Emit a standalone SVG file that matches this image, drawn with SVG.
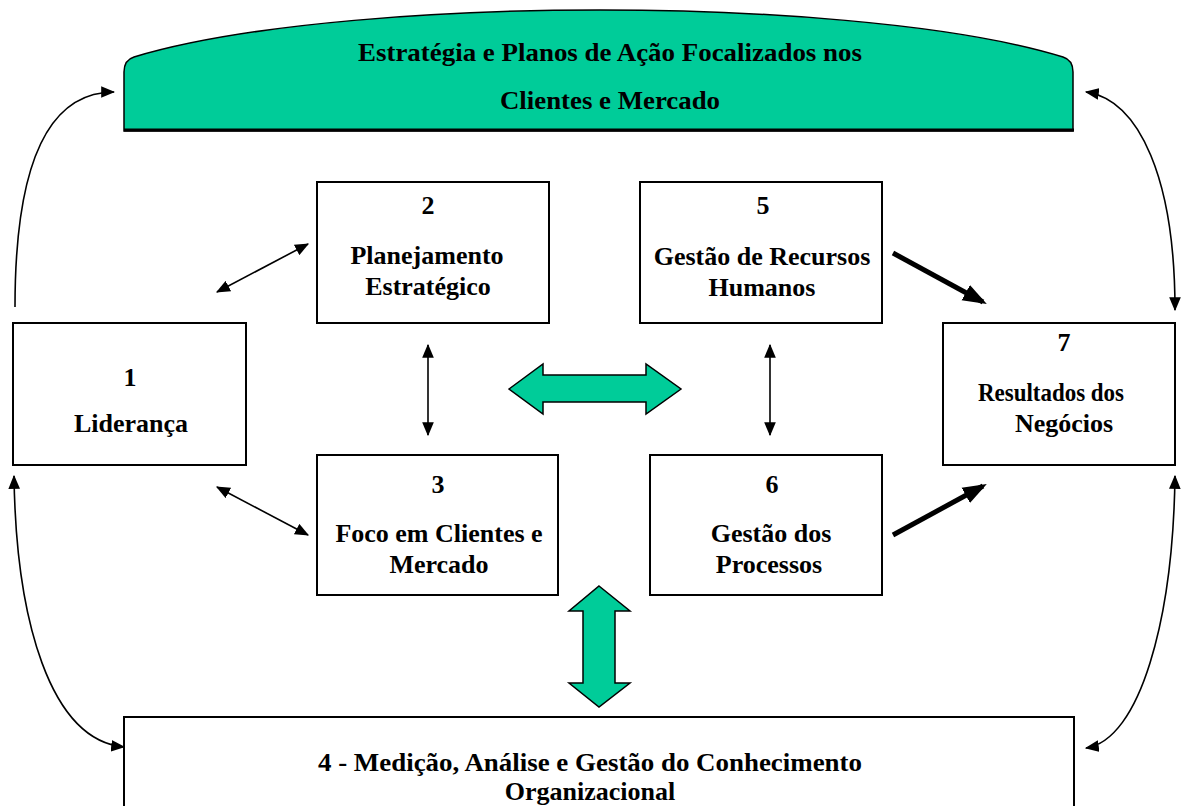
<svg xmlns="http://www.w3.org/2000/svg" width="1181" height="806" viewBox="0 0 1181 806">
<style>
.t{font-family:"Liberation Serif","Times New Roman",serif;font-weight:bold;font-size:26px;fill:#000;text-anchor:middle}
.box{fill:#fff;stroke:#000;stroke-width:2}
.thin{fill:none;stroke:#000;stroke-width:1.6}
.thick{fill:none;stroke:#000;stroke-width:5}
.green{fill:#00CC99;stroke:#000;stroke-width:1.5;stroke-linejoin:miter}
</style>
<defs>
<marker id="ah" markerUnits="userSpaceOnUse" markerWidth="14" markerHeight="12" refX="11" refY="5" orient="auto-start-reverse" viewBox="0 0 12 10">
<path d="M0,0 L12,5 L0,10 Z" fill="#000"/>
</marker>
<marker id="ahb" markerUnits="userSpaceOnUse" markerWidth="24" markerHeight="20" refX="18" refY="8" orient="auto" viewBox="0 0 22 16">
<path d="M0,0 L22,8 L0,16 Z" fill="#000"/>
</marker>
</defs>
<rect width="1181" height="806" fill="#fff"/>
<g id="banner">
<path d="M124,131 L124,72 Q124,60 134,57 C250,22 450,10 600,10 C750,10 950,22 1063,57 Q1073,60 1073,72 L1073,131 Z" fill="#00CC99" stroke="#000" stroke-width="1.5"/>
<line x1="124" y1="130" x2="1074" y2="130" stroke="#000" stroke-width="3"/>
<text class="t" x="610" y="61" textLength="504" lengthAdjust="spacingAndGlyphs">Estratégia e Planos de Ação Focalizados nos</text>
<text class="t" x="610" y="109" textLength="220" lengthAdjust="spacingAndGlyphs">Clientes e Mercado</text>
</g>
<g id="node1">
<rect class="box" x="13" y="323" width="233" height="142"/>
<text class="t" x="130" y="386">1</text>
<text class="t" x="131" y="432">Liderança</text>
</g>
<g id="node2">
<rect class="box" x="317" y="182" width="232" height="141"/>
<text class="t" x="428" y="214">2</text>
<text class="t" x="427" y="264">Planejamento</text>
<text class="t" x="428" y="295">Estratégico</text>
</g>
<g id="node5">
<rect class="box" x="640" y="182" width="242" height="141"/>
<text class="t" x="763" y="214">5</text>
<text class="t" x="762" y="265">Gestão de Recursos</text>
<text class="t" x="762" y="296">Humanos</text>
</g>
<g id="node3">
<rect class="box" x="317" y="455" width="241" height="140"/>
<text class="t" x="438" y="493">3</text>
<text class="t" x="439" y="542">Foco em Clientes e</text>
<text class="t" x="439" y="573">Mercado</text>
</g>
<g id="node6">
<rect class="box" x="650" y="455" width="232" height="140"/>
<text class="t" x="772" y="493">6</text>
<text class="t" x="771" y="542">Gestão dos</text>
<text class="t" x="769" y="573">Processos</text>
</g>
<g id="node7">
<rect class="box" x="943" y="323" width="232" height="142"/>
<text class="t" x="1064" y="351">7</text>
<text class="t" x="1051" y="401" textLength="146" lengthAdjust="spacingAndGlyphs">Resultados dos</text>
<text class="t" x="1064" y="432">Negócios</text>
</g>
<g id="node4">
<rect class="box" x="124" y="717" width="950" height="100"/>
<text class="t" x="590" y="771" textLength="544" lengthAdjust="spacingAndGlyphs">4 - Medição, Análise e Gestão do Conhecimento</text>
<text class="t" x="590" y="800">Organizacional</text>
</g>
<g id="connectors">
<path class="thin" d="M15,307 C15,170 45,92 114,92" marker-end="url(#ah)"/>
<path class="thin" d="M1086,92 C1140,100 1175,180 1175,310" marker-start="url(#ah)" marker-end="url(#ah)"/>
<path class="thin" d="M14,476 C16,620 50,740 124,747" marker-start="url(#ah)" marker-end="url(#ah)"/>
<path class="thin" d="M1175,476 C1173,620 1140,740 1086,748" marker-start="url(#ah)" marker-end="url(#ah)"/>
<line class="thin" x1="217" y1="292" x2="308" y2="244" marker-start="url(#ah)" marker-end="url(#ah)"/>
<line class="thin" x1="217" y1="487" x2="308" y2="535" marker-start="url(#ah)" marker-end="url(#ah)"/>
<line class="thin" x1="428" y1="345" x2="428" y2="435" marker-start="url(#ah)" marker-end="url(#ah)"/>
<line class="thin" x1="770" y1="345" x2="770" y2="435" marker-start="url(#ah)" marker-end="url(#ah)"/>
<line class="thick" x1="893" y1="253" x2="983" y2="302" marker-end="url(#ahb)"/>
<line class="thick" x1="893" y1="535" x2="983" y2="486" marker-end="url(#ahb)"/>
<polygon class="green" points="509,389 543,364 543,375 646,375 646,364 681,389 646,414 646,402 543,402 543,414"/>
<polygon class="green" points="599,586 630,611 615,611 615,683 630,683 599,707 569,683 583,683 583,611 569,611"/>
</g>
</svg>
